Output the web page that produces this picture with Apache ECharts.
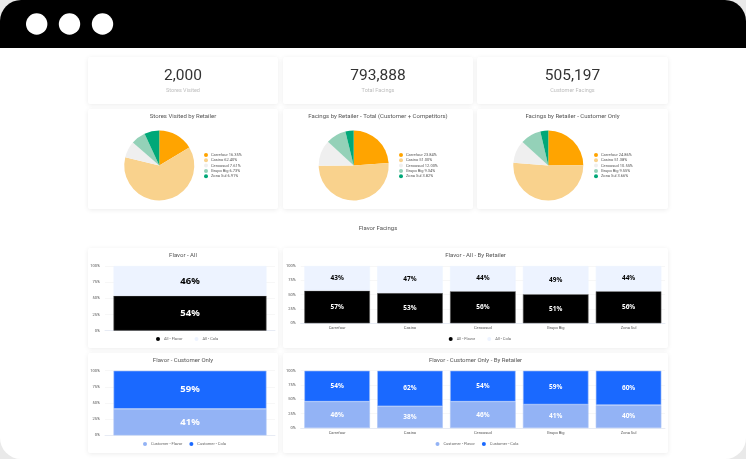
<!DOCTYPE html>
<html lang="en">
<head>
    <meta charset="UTF-8">
    <title>Flavor Facings</title>
    <script src="https://cdn.jsdelivr.net/npm/echarts@6/dist/echarts.min.js"></script>
    <style>
        html, body { margin: 0; padding: 0; background: #fff; }
        #main { width: 746px; height: 459px; }
    </style>
</head>
<body>
<div id="main"></div>

<script type="text/javascript">
  // values
  var retailers = ['Carrefour', 'Casino', 'Cencosud', 'Grupo Big', 'Zona Sul'];
  var storesVisited = [16.35, 62.40, 7.61, 6.73, 6.91];
  var facingsTotal = [23.84, 51.00, 12.00, 9.34, 3.82];
  var facingsCustomer = [24.86, 51.38, 10.55, 9.55, 3.66];

  var allFlavor = [54];
  var allCola = [46];
  var customerFlavor = [41];
  var customerCola = [59];

  var allFlavorByRetailer = [57, 53, 56, 51, 56];
  var allColaByRetailer = [43, 47, 44, 49, 44];
  var customerFlavorByRetailer = [46, 38, 46, 41, 40];
  var customerColaByRetailer = [54, 62, 54, 59, 60];

  var kpiValues = ['2,000', '793,888', '505,197'];
  var kpiLabels = ['Stores Visited', 'Total Facings', 'Customer Facings'];

  var pieColors = ['#ffa400', '#f9d28d', '#efefef', '#94d1b8', '#00a878'];
  var fontName = 'Roboto';

  var myChart = echarts.init(document.getElementById('main'));

  var graphic = [];
  var titles = [];
  var legends = [];
  var grids = [];
  var xAxes = [];
  var yAxes = [];
  var series = [];

  function card(x, y, w, h) {
    graphic.push({
      type: 'rect', z: -1, shape: {x: x, y: y, width: w, height: h, r: 2},
      style: {fill: '#fff', shadowBlur: 5, shadowColor: 'rgba(0,0,0,0.08)', shadowOffsetY: 1}
    });
  }

  function text(str, x, y, size, color, weight) {
    titles.push({
      text: str, left: x, top: y - size / 2 - 1, textAlign: 'center', padding: 0,
      textStyle: {fontFamily: fontName, fontSize: size, color: color, fontWeight: weight || 'normal', lineHeight: size + 2}
    });
  }

  // browser frame
  graphic.push({type: 'rect', z: -3, shape: {x: 0, y: 0, width: 746, height: 459}, style: {fill: '#e9e9e9'}});
  graphic.push({type: 'rect', z: -3, shape: {x: 0, y: 0, width: 746, height: 459, r: 21}, style: {fill: '#fff'}});
  graphic.push({type: 'rect', z: -2, shape: {x: 0, y: 0, width: 746, height: 48, r: [21, 21, 0, 0]}, style: {fill: '#000'}});
  [36.7, 69.5, 102.5].forEach(function (cx) {
    graphic.push({type: 'circle', z: -1, shape: {cx: cx, cy: 24, r: 10.7}, style: {fill: '#fff'}});
  });

  // kpi row
  var kpiX = [88, 283, 477];
  var kpiW = [190, 190, 191];
  kpiValues.forEach(function (v, i) {
    card(kpiX[i], 57, kpiW[i], 47);
    text(v, kpiX[i] + kpiW[i] / 2, 76, 15.5, '#333', 400);
    text(kpiLabels[i], kpiX[i] + kpiW[i] / 2, 91, 5.5, '#bdbdbd');
  });

  // pies
  function addPie(name, values, x, w, cx, legendX) {
    card(x, 109, w, 100);
    text(name, x + w / 2, 116.7, 6, '#555');
    series.push({
      name: name, type: 'pie', radius: 35, center: [cx, 165.5], startAngle: 90,
      color: pieColors, label: {show: false}, labelLine: {show: false}, silent: true,
      data: retailers.map(function (r, i) { return {name: r, value: values[i]}; })
    });
    legends.push({
      orient: 'vertical', left: legendX, top: 153, padding: 0, itemGap: 1.3,
      itemWidth: 4, itemHeight: 4, icon: 'circle', data: retailers,
      textStyle: {fontFamily: fontName, fontSize: 4, color: '#555', padding: [0, 0, 0, -2]},
      formatter: function (n) { return n + ' ' + values[retailers.indexOf(n)].toFixed(2) + '%'; }
    });
  }
  addPie('Stores Visited by Retailer', storesVisited, 88, 190, 159.3, 204);
  addPie('Facings by Retailer - Total (Customer + Competitors)', facingsTotal, 283, 190, 353.7, 399);
  addPie('Facings by Retailer - Customer Only', facingsCustomer, 477, 191, 548.3, 594);

  text('Flavor Facings', 378, 228, 6, '#555');

  // stacked bars
  function addBars(title, cats, flavorName, flavor, colaName, cola, opt) {
    card(opt.cardX, opt.cardY, opt.cardW, 100);
    text(title, opt.cardX + opt.cardW / 2, opt.cardY + 7.7, 6, '#555');
    var idx = grids.length;
    grids.push({left: opt.left, width: opt.width, top: opt.top, height: opt.height});
    xAxes.push({
      type: 'category', gridIndex: idx, data: cats,
      axisTick: {show: false},
      axisLine: {lineStyle: {color: '#dfe5f2', width: 0.7}},
      axisLabel: {show: cats.length > 1, fontFamily: fontName, fontSize: 4, color: '#555', margin: 3}
    });
    yAxes.push({
      type: 'value', gridIndex: idx, min: 0, max: 100, interval: 25,
      axisLabel: {formatter: '{value}%', fontFamily: fontName, fontSize: 4, color: '#555', margin: 5},
      splitLine: {lineStyle: {color: '#f2f2f2', width: 0.6}}
    });
    [[flavorName, flavor, opt.flavorColor, opt.flavorBorder, opt.flavorText],
     [colaName, cola, opt.colaColor, opt.colaBorder, opt.colaText]].forEach(function (s) {
      series.push({
        name: s[0], type: 'bar', stack: 'f' + idx, xAxisIndex: idx, yAxisIndex: idx,
        data: s[1], barWidth: '90%', silent: true,
        itemStyle: {color: s[2], borderColor: s[3], borderWidth: 0.6},
        label: {
          show: true, position: 'inside', formatter: '{c}%', color: s[4],
          fontFamily: 'Noto Sans', fontWeight: 'bold', fontSize: opt.labelSize
        }
      });
    });
    legends.push({
      left: opt.legendX, top: opt.cardY + 89, padding: 0, itemGap: opt.legendGap,
      itemWidth: 4, itemHeight: 4, icon: 'circle', data: [flavorName, colaName],
      itemStyle: {borderWidth: 0},
      textStyle: {fontFamily: fontName, fontSize: 4, color: '#666', padding: [0, 0, 0, -1]}
    });
  }

  var allStyle = {flavorColor: '#000', flavorBorder: '#555', flavorText: '#fff',
                  colaColor: '#edf3ff', colaBorder: '#edf3ff', colaText: '#000'};
  var customerStyle = {flavorColor: '#93b3f5', flavorBorder: '#a9c3f7', flavorText: '#fff',
                       colaColor: '#1a69ff', colaBorder: '#a9c3f7', colaText: '#fff'};

  function withStyle(style, o) {
    for (var k in style) o[k] = style[k];
    return o;
  }

  addBars('Flavor - All', ['All'], 'All - Flavor', allFlavor, 'All - Cola', allCola, withStyle(allStyle, {
    cardX: 88, cardY: 248, cardW: 190, left: 105, width: 170, top: 266, height: 64.7,
    labelSize: 9.5, legendX: 156, legendGap: 12
  }));
  addBars('Flavor - All - By Retailer', retailers, 'All - Flavor', allFlavorByRetailer, 'All - Cola', allColaByRetailer, withStyle(allStyle, {
    cardX: 283, cardY: 248, cardW: 385, left: 300.7, width: 364.3, top: 266, height: 57.3,
    labelSize: 6.5, legendX: 448.7, legendGap: 12
  }));
  addBars('Flavor - Customer Only', ['Customer'], 'Customer - Flavor', customerFlavor, 'Customer - Cola', customerCola, withStyle(customerStyle, {
    cardX: 88, cardY: 353, cardW: 190, left: 105, width: 170, top: 370.7, height: 64.7,
    labelSize: 9.5, legendX: 143, legendGap: 7
  }));
  addBars('Flavor - Customer Only - By Retailer', retailers, 'Customer - Flavor', customerFlavorByRetailer, 'Customer - Cola', customerColaByRetailer, withStyle(customerStyle, {
    cardX: 283, cardY: 353, cardW: 385, left: 300.7, width: 364.3, top: 370.7, height: 57.3,
    labelSize: 6.5, legendX: 435.5, legendGap: 7
  }));

  var option = {
    animation: false,
    backgroundColor: '#fff',
    graphic: {elements: graphic},
    title: titles,
    legend: legends,
    grid: grids,
    xAxis: xAxes,
    yAxis: yAxes,
    series: series
  };

  myChart.setOption(option);
</script>

</body>
</html>
